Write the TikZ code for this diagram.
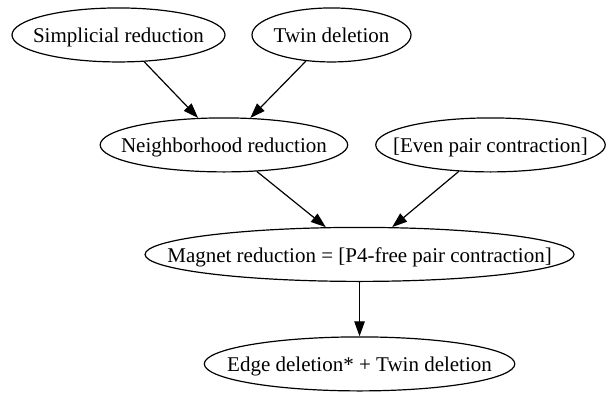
\documentclass[tikz,border=0pt]{standalone}
\usepackage{fontspec}
\setmainfont{Liberation Serif}
\usetikzlibrary{positioning,arrows.meta,shapes.geometric}

\begin{document}
\begin{tikzpicture}[x=1pt, y=1pt, every node/.style={font=\fontsize{14}{16}\selectfont},
    oval/.style={ellipse, draw, line width=0.8pt, inner sep=0pt, minimum height=36pt,
        text height=10.5pt, text depth=0pt},
    arr/.style={-{Triangle[length=10pt,width=7pt]}, line width=0.8pt}]
        \useasboundingbox (0,0) rectangle (404,263.3);

        % Top row
        \node[oval, minimum width=142pt] (simp) at (79,240) {\makebox[0pt]{Simplicial reduction}};
        \node[oval, minimum width=106pt] (twin) at (221,240) {\makebox[0pt]{Twin deletion}};

        % Second row
        \node[oval, minimum width=165pt] (nbhd) at (149.3,166.7) {\makebox[0pt]{Neighborhood reduction}};
        \node[oval, minimum width=153pt] (even) at (327,166.7) {\makebox[0pt]{[Even pair contraction]}};

        % Third row
        \node[oval, minimum width=286pt] (magnet) at (239.7,93.7) {\makebox[0pt]{Magnet reduction = [P4-free pair contraction]}};

        % Bottom
        \node[oval, minimum width=207pt] (edgedel) at (239.7,20.7) {\makebox[0pt]{Edge deletion* + Twin deletion}};

        \draw[arr] (simp) -- (nbhd);
        \draw[arr] (twin) -- (nbhd);
        \draw[arr] (nbhd) -- (magnet);
        \draw[arr] (even) -- (magnet);
        \draw[arr] (magnet) -- (edgedel);
    \end{tikzpicture}
\end{document}
